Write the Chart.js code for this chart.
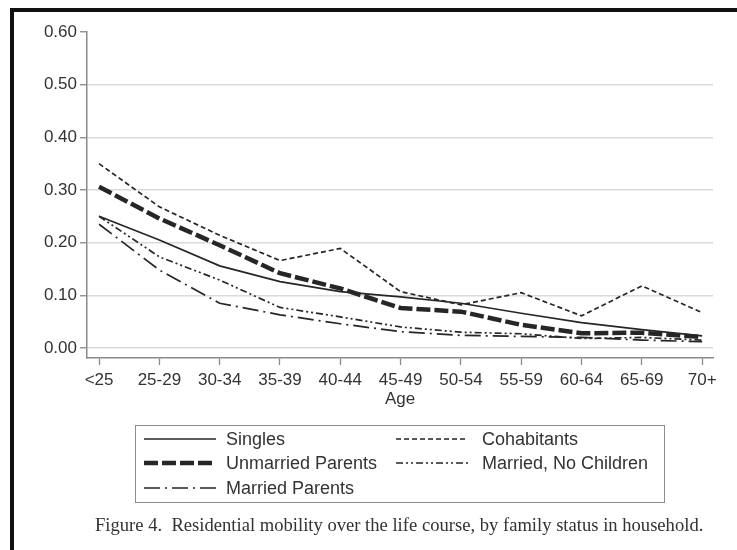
<!DOCTYPE html>
<html>
<head>
<meta charset="utf-8">
<script src="https://cdn.jsdelivr.net/npm/chart.js@4.4.1/dist/chart.umd.min.js"></script>
<style>
  html, body { margin:0; padding:0; background:#fff; }
  #wrap { position:relative; width:737px; height:550px; overflow:hidden; background:#fff; }
  #frame { position:absolute; left:10px; top:8px; width:800px; height:700px; border-left:4px solid #111; border-top:4px solid #111; }
  #c { position:absolute; left:0; top:0; }
  #legend { position:absolute; left:135px; top:425px; width:530px; height:78px; border:1.5px solid #8c8c8c; box-sizing:border-box;
            font-family:"Liberation Sans", Arial, sans-serif; font-size:18px; color:#333; }
  .item { position:absolute; height:22px; display:flex; align-items:center; white-space:nowrap; }
  .item svg { margin-right:10px; }
  .item.c2 svg { margin-right:14px; }
  #caption { position:absolute; left:0; width:800px; top:514px; text-align:left; padding-left:95px; box-sizing:border-box;
             font-family:"Liberation Serif", "DejaVu Serif", serif; font-size:18.6px; color:#333; white-space:pre; }
</style>
</head>
<body>
<div id="wrap">
  <div id="frame"></div>
  <canvas id="c" width="737" height="550"></canvas>
  <div id="legend"></div>
  <div id="caption">Figure 4.  Residential mobility over the life course, by family status in household.</div>
</div>
<script>
const ageGroups = ["<25","25-29","30-34","35-39","40-44","45-49","50-54","55-59","60-64","65-69","70+"];
const yTicks = [0, 0.1, 0.2, 0.3, 0.4, 0.5, 0.6];
const seriesNames = ["Singles","Cohabitants","Unmarried Parents","Married, No Children","Married Parents"];
const singles        = [0.250, 0.205, 0.156, 0.126, 0.107, 0.097, 0.085, 0.066, 0.048, 0.035, 0.023];
const cohabitants    = [0.350, 0.268, 0.214, 0.166, 0.189, 0.107, 0.082, 0.105, 0.061, 0.118, 0.067];
const unmarriedPar   = [0.306, 0.246, 0.195, 0.142, 0.113, 0.076, 0.069, 0.044, 0.028, 0.029, 0.021];
const marriedNoKids  = [0.250, 0.173, 0.129, 0.077, 0.059, 0.040, 0.030, 0.027, 0.018, 0.020, 0.015];
const marriedParents = [0.235, 0.148, 0.085, 0.063, 0.046, 0.031, 0.024, 0.022, 0.020, 0.015, 0.012];

const seriesValues = [singles, cohabitants, unmarriedPar, marriedNoKids, marriedParents];
const styles = [
  {w:1.7, dash:[]},
  {w:1.7, dash:[5,3]},
  {w:4.5, dash:[14,4]},
  {w:1.7, dash:[7,3,2,3,2,3]},
  {w:1.7, dash:[16,5,2,5]}
];
const lineColor = "#262626";

const datasets = seriesNames.map((name, k) => ({
  label: name,
  data: seriesValues[k].map((v, i) => ({x: i, y: v})),
  borderColor: lineColor,
  borderWidth: styles[k].w,
  borderDash: styles[k].dash,
  pointRadius: 0,
  fill: false,
  tension: 0
}));

const tickFont = {family: '"Liberation Sans", Arial, sans-serif', size: 17};

new Chart(document.getElementById('c'), {
  type: 'line',
  data: { datasets },
  options: {
    responsive: false,
    animation: false,
    devicePixelRatio: 1,
    layout: { padding: { left: 0, top: 32, right: 24, bottom: 140 } },
    plugins: { legend: { display: false }, tooltip: { enabled: false } },
    scales: {
      x: {
        type: 'linear',
        min: -0.2, max: 10.18,
        afterBuildTicks: s => { s.ticks = ageGroups.map((_, i) => ({value: i})); },
        afterFit: s => { s.height = 52; },
        ticks: { callback: v => ageGroups[v], font: tickFont, color: '#333', padding: 5, maxRotation: 0, autoSkip: false },
        grid: { drawOnChartArea: false, drawTicks: true, tickLength: 7, tickColor: '#8a8a8a', tickWidth: 1.3 },
        border: { display: true, color: '#8a8a8a', width: 1.5 },
        title: { display: true, text: 'Age', font: tickFont, color: '#333', padding: { top: 0, bottom: 0 } }
      },
      y: {
        type: 'linear',
        min: -0.019, max: 0.6,
        afterBuildTicks: s => { s.ticks = yTicks.map(v => ({value: v})); },
        afterFit: s => { s.width = 87; },
        ticks: { callback: v => v.toFixed(2), font: tickFont, color: '#333', padding: 3 },
        grid: {
          drawOnChartArea: true, drawTicks: true, tickLength: 7,
          color: c => (c.tick && c.tick.value >= 0.6) ? 'rgba(0,0,0,0)' : '#dadada',
          lineWidth: 1.5, tickColor: '#8a8a8a', tickWidth: 1.3
        },
        border: { display: true, color: '#8a8a8a', width: 1.5 }
      }
    }
  }
});

// Legend (HTML, two columns like the original)
const legendPos = [
  {left: 8, top: 2}, {left: 260, top: 2},
  {left: 8, top: 26}, {left: 260, top: 26},
  {left: 8, top: 51}
];
const legend = document.getElementById('legend');
seriesNames.forEach((name, k) => {
  const d = document.createElement('div');
  d.className = 'item' + (k % 2 === 1 ? ' c2' : '');
  d.style.left = legendPos[k].left + 'px';
  d.style.top = legendPos[k].top + 'px';
  const dash = styles[k].dash.length ? `stroke-dasharray="${styles[k].dash.join(',')}"` : '';
  d.innerHTML = `<svg width="72" height="10"><line x1="0" y1="5" x2="72" y2="5" stroke="${lineColor}" stroke-width="${styles[k].w}" ${dash}/></svg><span>${name}</span>`;
  legend.appendChild(d);
});
</script>
</body>
</html>
